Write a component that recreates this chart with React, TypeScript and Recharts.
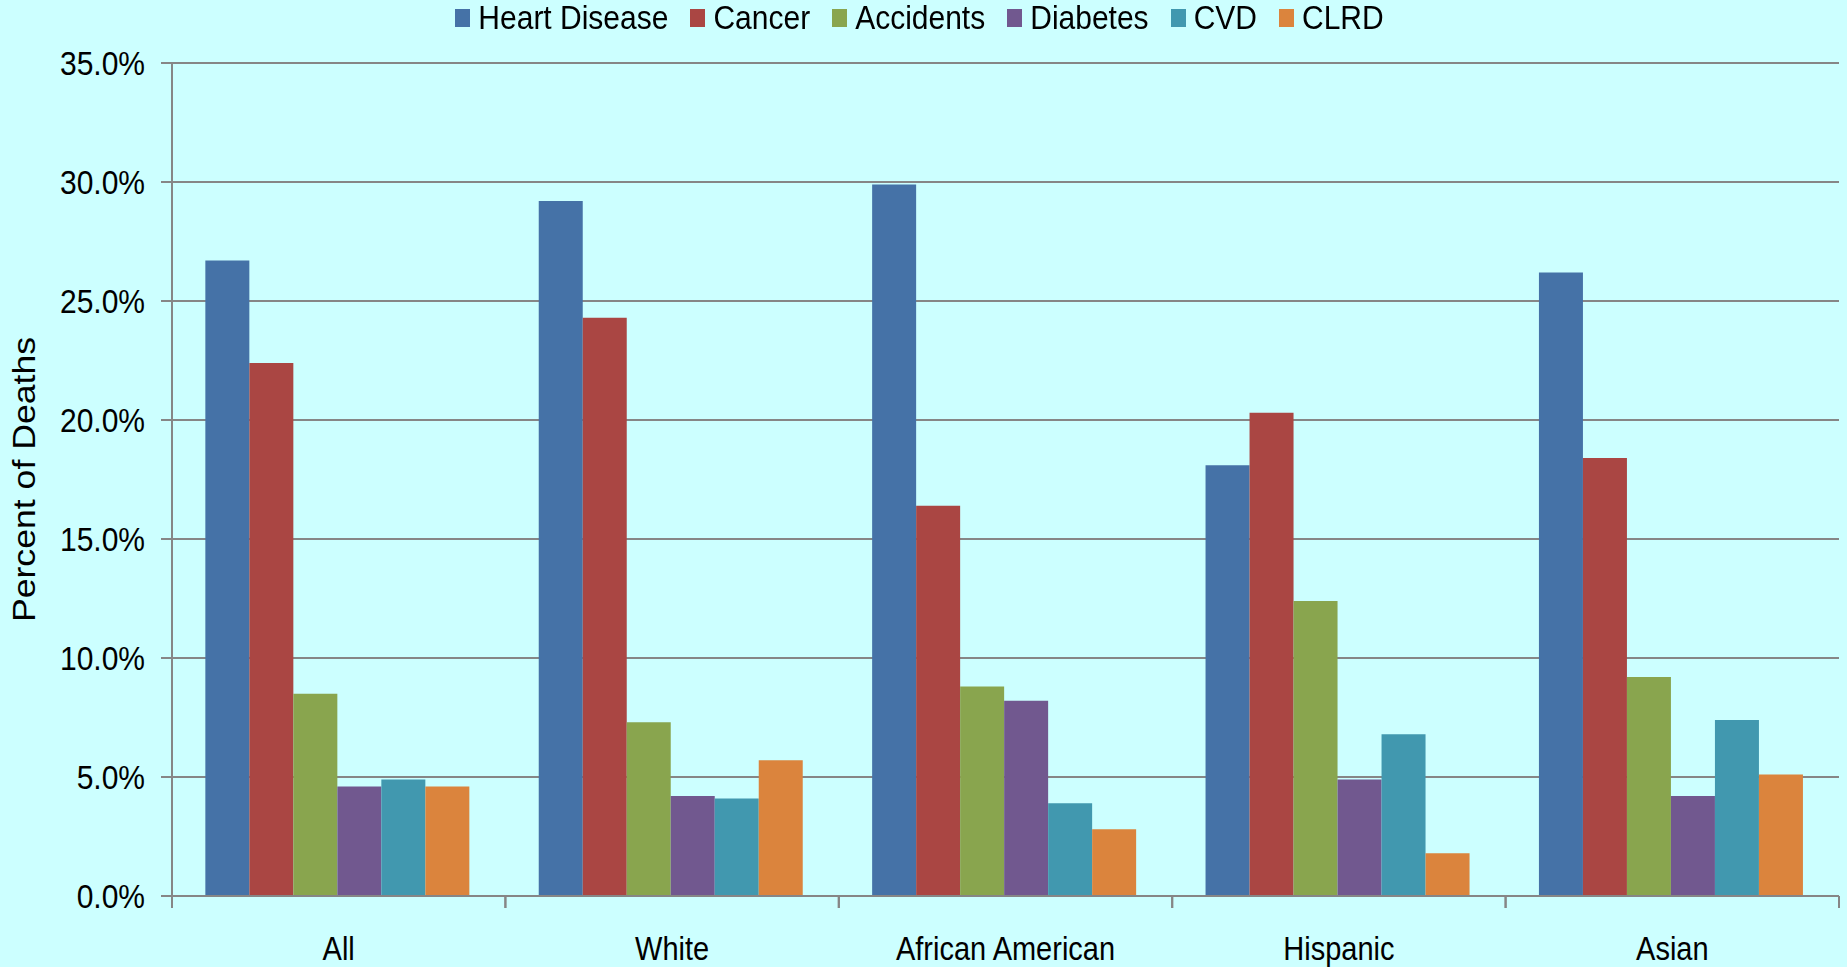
import { Bar, BarChart, CartesianGrid, Legend, XAxis, YAxis } from "recharts";

const groups = ["All", "White", "African American", "Hispanic", "Asian"];
const heartDisease = [26.7, 29.2, 29.9, 18.1, 26.2];
const cancer = [22.4, 24.3, 16.4, 20.3, 18.4];
const accidents = [8.5, 7.3, 8.8, 12.4, 9.2];
const diabetes = [4.6, 4.2, 8.2, 4.9, 4.2];
const cvd = [4.9, 4.1, 3.9, 6.8, 7.4];
const clrd = [4.6, 5.7, 2.8, 1.8, 5.1];
const yTicks = [0, 5, 10, 15, 20, 25, 30, 35];

const series = [
  { key: "Heart Disease", values: heartDisease, color: "#4572A7" },
  { key: "Cancer", values: cancer, color: "#AA4643" },
  { key: "Accidents", values: accidents, color: "#89A54E" },
  { key: "Diabetes", values: diabetes, color: "#71588F" },
  { key: "CVD", values: cvd, color: "#4198AF" },
  { key: "CLRD", values: clrd, color: "#DB843D" },
];

const data = groups.map((g, i) => {
  const row: Record<string, string | number> = { group: g };
  series.forEach((s) => {
    row[s.key] = s.values[i];
  });
  return row;
});

const W = 1847;
const H = 967;
const LEFT = 172;
const RIGHT = 8;
const FONT = "'Liberation Sans', Arial, sans-serif";
const band = (W - LEFT - RIGHT) / groups.length;

// the original figure is stretched vertically a bit, so the text is too
const GroupTick = (props: any) => {
  const { x, y, payload } = props;
  return (
    <g>
      <line x1={x - band / 2} x2={x - band / 2} y1={y} y2={y + 12} stroke="#868686" strokeWidth={2} />
      <line x1={x + band / 2} x2={x + band / 2} y1={y} y2={y + 12} stroke="#868686" strokeWidth={2} />
      <text
        transform={`translate(${x},${y + 64}) scale(1,1.17)`}
        textAnchor="middle"
        fontSize={29}
        fill="#000"
        fontFamily={FONT}
      >
        {payload.value}
      </text>
    </g>
  );
};

const PercentTick = (props: any) => {
  const { x, y, payload } = props;
  return (
    <text
      transform={`translate(${x},${y}) scale(1,1.13)`}
      dy="0.36em"
      textAnchor="end"
      fontSize={30}
      fill="#000"
      fontFamily={FONT}
    >
      {`${Number(payload.value).toFixed(1)}%`}
    </text>
  );
};

const YLabel = (props: any) => {
  const vb = props.viewBox || {};
  const cy = (vb.y || 0) + (vb.height || 0) / 2;
  return (
    <text
      transform={`translate(24,${cy}) rotate(-90) scale(1.15,1)`}
      dy="0.36em"
      textAnchor="middle"
      fontSize={31}
      fill="#000"
      fontFamily={FONT}
    >
      Percent of Deaths
    </text>
  );
};

const LegendRow = () => (
  <div
    style={{
      display: "flex",
      justifyContent: "center",
      alignItems: "center",
      height: 36,
      fontFamily: FONT,
      fontSize: 30,
      color: "#000",
    }}
  >
    {series.map((s, i) => (
      <div
        key={s.key}
        style={{ display: "flex", alignItems: "center", marginRight: i < series.length - 1 ? 22 : 0 }}
      >
        <div style={{ width: 15, height: 18, background: s.color, marginRight: 8 }} />
        <span style={{ display: "inline-block", transform: "scaleY(1.1)", lineHeight: "36px" }}>{s.key}</span>
      </div>
    ))}
  </div>
);

const App = () => {
  return (
    <div style={{ position: "fixed", left: 0, top: 0, width: W, height: H, background: "#CCFFFF" }}>
      <BarChart
        width={W}
        height={H}
        data={data}
        margin={{ top: 27, right: RIGHT, bottom: 0, left: 0 }}
        barCategoryGap="10%"
        barGap={0}
      >
        <CartesianGrid vertical={false} stroke="#868686" strokeWidth={2} />
        <Legend verticalAlign="top" align="center" height={36} wrapperStyle={{ top: 0 }} content={<LegendRow />} />
        <XAxis
          dataKey="group"
          height={71}
          tickLine={false}
          tickSize={0}
          tickMargin={0}
          interval={0}
          stroke="#868686"
          strokeWidth={2}
          tick={<GroupTick />}
        />
        <YAxis
          width={LEFT}
          domain={[0, 35]}
          ticks={yTicks}
          interval={0}
          stroke="#868686"
          strokeWidth={2}
          tickSize={11}
          tickMargin={16}
          tick={<PercentTick />}
          label={<YLabel />}
        />
        {series.map((s) => (
          <Bar key={s.key} dataKey={s.key} fill={s.color} isAnimationActive={false} />
        ))}
      </BarChart>
    </div>
  );
};

export default App;
